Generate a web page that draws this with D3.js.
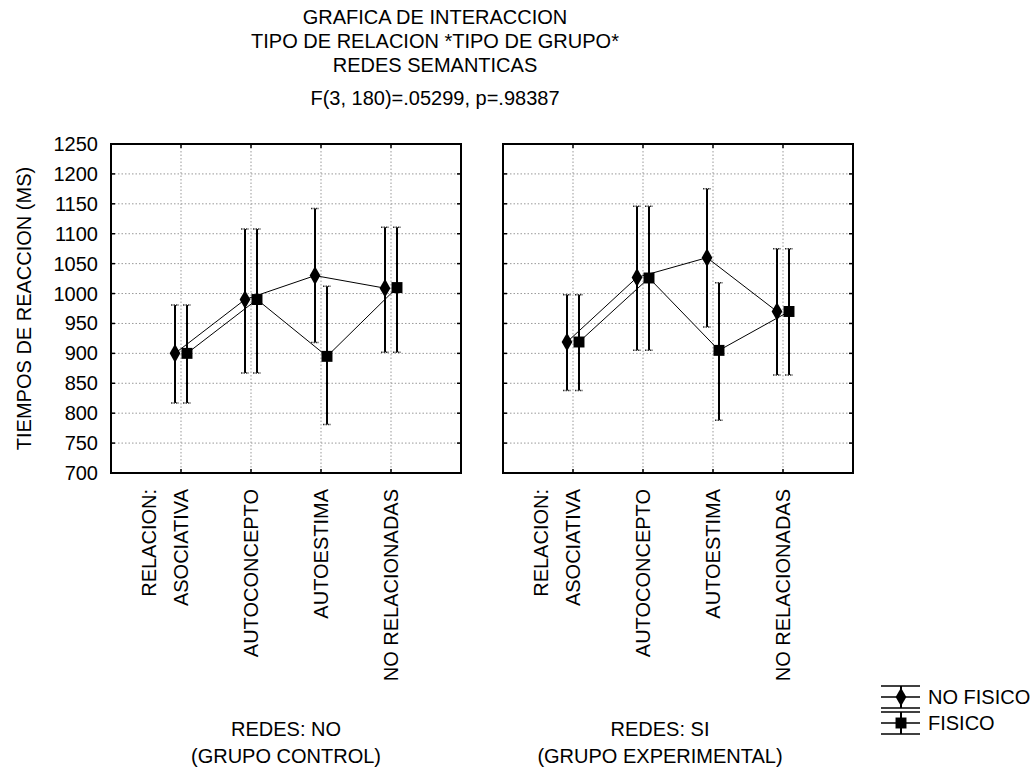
<!DOCTYPE html>
<html>
<head>
<meta charset="utf-8">
<script src="https://cdn.jsdelivr.net/npm/d3@7"></script>
<style>
  body { margin: 0; background: #fff; }
  text { font-family: "Liberation Sans", Arial, sans-serif; fill: #000; }
</style>
</head>
<body>
<div id="chart"></div>
<script>
const WIDTH = 1033, HEIGHT = 769;

// data
const categories = ["ASOCIATIVA", "AUTOCONCEPTO", "AUTOESTIMA", "NO RELACIONADAS"];
const series = ["NO FISICO", "FISICO"];
const titleLines = ["GRAFICA DE INTERACCION", "TIPO DE RELACION *TIPO DE GRUPO*", "REDES SEMANTICAS"];
const statLine = "F(3, 180)=.05299, p=.98387";
const yTicks = [700, 750, 800, 850, 900, 950, 1000, 1050, 1100, 1150, 1200, 1250];

// REDES: NO (GRUPO CONTROL)
const noFisicoMeanNo = [900, 990, 1030, 1009];
const noFisicoLowNo  = [817, 867, 918, 902];
const noFisicoHighNo = [981, 1108, 1142, 1111];
const fisicoMeanNo   = [900, 990, 895, 1010];
const fisicoLowNo    = [817, 867, 781, 902];
const fisicoHighNo   = [981, 1108, 1012, 1111];

// REDES: SI (GRUPO EXPERIMENTAL)
const noFisicoMeanSi = [919, 1027, 1060, 970];
const noFisicoLowSi  = [838, 905, 944, 864];
const noFisicoHighSi = [998, 1146, 1175, 1075];
const fisicoMeanSi   = [919, 1026, 905, 970];
const fisicoLowSi    = [838, 905, 788, 864];
const fisicoHighSi   = [998, 1146, 1018, 1075];

const panels = [
  { labels: ["REDES: NO", "(GRUPO CONTROL)"], x0: 111, x1: 461, labelX: 286,
    data: [
      { mean: noFisicoMeanNo, low: noFisicoLowNo, high: noFisicoHighNo },
      { mean: fisicoMeanNo, low: fisicoLowNo, high: fisicoHighNo }
    ] },
  { labels: ["REDES: SI", "(GRUPO EXPERIMENTAL)"], x0: 503, x1: 853, labelX: 660,
    data: [
      { mean: noFisicoMeanSi, low: noFisicoLowSi, high: noFisicoHighSi },
      { mean: fisicoMeanSi, low: fisicoLowSi, high: fisicoHighSi }
    ] }
];

const FONT = 20;
const TOP = 144, BOTTOM = 473;
const offsets = [-6, 6];

const svg = d3.select("#chart").append("svg")
  .attr("width", WIDTH)
  .attr("height", HEIGHT);

const y = d3.scaleLinear().domain([700, 1250]).range([BOTTOM, TOP]);

// titles
svg.selectAll(".title")
  .data(titleLines)
  .enter().append("text")
  .attr("class", "title")
  .attr("x", 435)
  .attr("y", (d, i) => 17 + i * 24)
  .attr("text-anchor", "middle")
  .attr("dominant-baseline", "central")
  .style("font-size", FONT + "px")
  .text(d => d);

svg.append("text")
  .attr("x", 435).attr("y", 98)
  .attr("text-anchor", "middle")
  .attr("dominant-baseline", "central")
  .style("font-size", FONT + "px")
  .text(statLine);

// y axis label
svg.append("text")
  .attr("transform", "translate(24," + ((TOP + BOTTOM) / 2) + ") rotate(-90)")
  .attr("text-anchor", "middle")
  .attr("dominant-baseline", "central")
  .style("font-size", FONT + "px")
  .text("TIEMPOS DE REACCION (MS)");

// y tick labels
svg.selectAll(".ylab")
  .data(yTicks)
  .enter().append("text")
  .attr("class", "ylab")
  .attr("x", 98)
  .attr("y", d => y(d))
  .attr("text-anchor", "end")
  .attr("dominant-baseline", "central")
  .style("font-size", FONT + "px")
  .text(d => d);

const diamond = d3.symbol().type(d3.symbolDiamond).size(100);
const square = d3.symbol().type(d3.symbolSquare).size(120);

panels.forEach(p => {
  const x = d3.scaleLinear().domain([0, 5]).range([p.x0, p.x1]);
  const g = svg.append("g");

  // grid
  g.selectAll(".hgrid")
    .data(yTicks.filter(t => t > 700 && t < 1250))
    .enter().append("line")
    .attr("x1", p.x0).attr("x2", p.x1)
    .attr("y1", d => y(d)).attr("y2", d => y(d))
    .attr("stroke", "#999")
    .attr("stroke-dasharray", "1.5,2");

  g.selectAll(".vgrid")
    .data(categories)
    .enter().append("line")
    .attr("x1", (d, i) => x(i + 1)).attr("x2", (d, i) => x(i + 1))
    .attr("y1", TOP).attr("y2", BOTTOM)
    .attr("stroke", "#999")
    .attr("stroke-dasharray", "1.5,2");

  // ticks inward
  g.selectAll(".ytickL")
    .data(yTicks)
    .enter().append("line")
    .attr("x1", p.x0).attr("x2", p.x0 + 4)
    .attr("y1", d => y(d)).attr("y2", d => y(d))
    .attr("stroke", "#000").attr("stroke-width", 1.5);
  g.selectAll(".ytickR")
    .data(yTicks)
    .enter().append("line")
    .attr("x1", p.x1).attr("x2", p.x1 - 4)
    .attr("y1", d => y(d)).attr("y2", d => y(d))
    .attr("stroke", "#000").attr("stroke-width", 1.5);
  g.selectAll(".xtickB")
    .data(d3.range(1, 5))
    .enter().append("line")
    .attr("x1", d => x(d)).attr("x2", d => x(d))
    .attr("y1", BOTTOM).attr("y2", BOTTOM - 4)
    .attr("stroke", "#000").attr("stroke-width", 1.5);
  g.selectAll(".xtickT")
    .data(d3.range(1, 5))
    .enter().append("line")
    .attr("x1", d => x(d)).attr("x2", d => x(d))
    .attr("y1", TOP).attr("y2", TOP + 4)
    .attr("stroke", "#000").attr("stroke-width", 1.5);

  // frame
  g.append("rect")
    .attr("x", p.x0).attr("y", TOP)
    .attr("width", p.x1 - p.x0).attr("height", BOTTOM - TOP)
    .attr("fill", "none")
    .attr("stroke", "#000")
    .attr("stroke-width", 2);

  // connecting lines
  p.data.forEach((s, si) => {
    const line = d3.line()
      .x((d, i) => x(i + 1) + offsets[si])
      .y(d => y(d));
    g.append("path")
      .attr("d", line(s.mean))
      .attr("fill", "none")
      .attr("stroke", "#000")
      .attr("stroke-width", 1);
  });

  // error bars
  p.data.forEach((s, si) => {
    s.mean.forEach((m, i) => {
      const cx = x(i + 1) + offsets[si];
      g.append("line")
        .attr("x1", cx).attr("x2", cx)
        .attr("y1", y(s.low[i])).attr("y2", y(s.high[i]))
        .attr("stroke", "#000").attr("stroke-width", 2);
      [s.low[i], s.high[i]].forEach(v => {
        g.append("line")
          .attr("x1", cx - 4).attr("x2", cx + 4)
          .attr("y1", y(v)).attr("y2", y(v))
          .attr("stroke", "#333").attr("stroke-width", 1.5)
          .attr("stroke-dasharray", "1.5,1");
      });
    });
  });

  // markers
  p.data.forEach((s, si) => {
    g.selectAll(".m" + si)
      .data(s.mean)
      .enter().append("path")
      .attr("d", si === 0 ? diamond : square)
      .attr("transform", (d, i) => "translate(" + (x(i + 1) + offsets[si]) + "," + y(d) + ")")
      .attr("fill", "#000");
  });

  // category labels
  categories.forEach((c, i) => {
    const cx = x(i + 1);
    g.append("text")
      .attr("transform", "translate(" + cx + ",489) rotate(-90)")
      .attr("text-anchor", "end")
      .attr("dominant-baseline", "central")
      .style("font-size", FONT + "px")
      .text(c);
    if (i === 0) {
      g.append("text")
        .attr("transform", "translate(" + (cx - 32) + ",489) rotate(-90)")
        .attr("text-anchor", "end")
        .attr("dominant-baseline", "central")
        .style("font-size", FONT + "px")
        .text("RELACION:");
    }
  });

  // group labels
  g.selectAll(".glab")
    .data(p.labels)
    .enter().append("text")
    .attr("x", p.labelX)
    .attr("y", (d, i) => 729 + i * 27)
    .attr("text-anchor", "middle")
    .attr("dominant-baseline", "central")
    .style("font-size", FONT + "px")
    .text(d => d);
});

// legend
const legend = svg.append("g").attr("transform", "translate(901,0)");
series.forEach((name, si) => {
  const cy = si === 0 ? 697 : 723;
  const lg = legend.append("g");
  [cy - 11, cy, cy + 11].forEach(ly => {
    lg.append("line")
      .attr("x1", -20).attr("x2", 19)
      .attr("y1", ly).attr("y2", ly)
      .attr("stroke", "#000").attr("stroke-width", 1.5);
  });
  lg.append("line")
    .attr("x1", 0).attr("x2", 0)
    .attr("y1", cy - 11).attr("y2", cy + 11)
    .attr("stroke", "#000").attr("stroke-width", 2);
  lg.append("path")
    .attr("d", si === 0 ? diamond : square)
    .attr("transform", "translate(0," + cy + ")")
    .attr("fill", "#000");
  lg.append("text")
    .attr("x", 27).attr("y", cy)
    .attr("dominant-baseline", "central")
    .style("font-size", FONT + "px")
    .text(name);
});
</script>
</body>
</html>
